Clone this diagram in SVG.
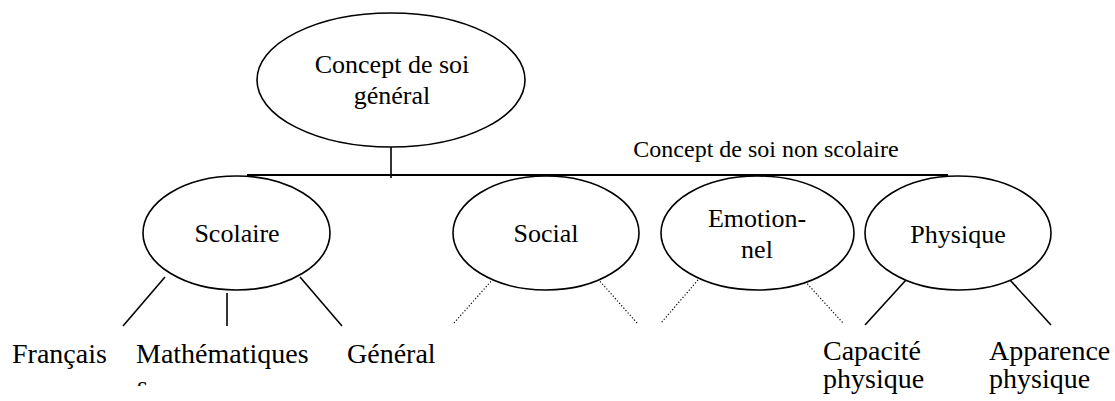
<svg xmlns="http://www.w3.org/2000/svg" width="1115" height="401" viewBox="0 0 1115 401" font-family="'Liberation Serif', 'Times New Roman', 'DejaVu Serif', serif">
<style>
.node{fill:#fff;stroke:#000;stroke-width:1.6}
text{font-family:'Liberation Serif','Times New Roman','DejaVu Serif',serif;fill:#000}
.t{text-anchor:middle;font-size:26px}
.b{font-size:28px}
.solid{stroke:#000;stroke-width:1.6;fill:none}
.dot{stroke:#000;stroke-width:1.2;stroke-dasharray:1.2 2;fill:none}
</style>
<defs>
<clipPath id="cut"><rect x="120" y="370" width="40" height="16"/></clipPath>
</defs>
<rect width="1115" height="401" fill="#fff"/>
<g id="connectors">
<line class="solid" x1="391" y1="147" x2="391" y2="178"/>
<line class="solid" x1="247" y1="175" x2="948" y2="175" style="stroke-width:2"/>
<line class="solid" x1="165" y1="277" x2="123" y2="326"/>
<line class="solid" x1="227" y1="293" x2="227" y2="326"/>
<line class="solid" x1="300" y1="277" x2="342" y2="326"/>
<line class="dot" x1="493" y1="279" x2="454" y2="323"/>
<line class="dot" x1="598" y1="279" x2="637" y2="323"/>
<line class="dot" x1="698" y1="280" x2="661" y2="323"/>
<line class="dot" x1="803" y1="279" x2="843" y2="323"/>
<line class="solid" x1="906" y1="280" x2="865" y2="325"/>
<line class="solid" x1="1010" y1="280" x2="1051" y2="325"/>
</g>
<g id="general">
<ellipse class="node" cx="391" cy="80" rx="134" ry="67"/>
<text class="t" x="392" y="73">Concept de soi</text>
<text class="t" x="392" y="104">général</text>
</g>
<g id="nonscolaire-label">
<text class="t" x="766" y="157" style="font-size:24px">Concept de soi non scolaire</text>
</g>
<g id="scolaire">
<ellipse class="node" cx="236.5" cy="233" rx="93.5" ry="57"/>
<text class="t" x="237" y="242">Scolaire</text>
</g>
<g id="social">
<ellipse class="node" cx="546" cy="233" rx="93" ry="57"/>
<text class="t" x="546" y="242">Social</text>
</g>
<g id="emotionnel">
<ellipse class="node" cx="757.5" cy="233" rx="96.5" ry="57"/>
<text class="t" x="757" y="227">Emotion-</text>
<text class="t" x="757" y="258">nel</text>
</g>
<g id="physique">
<ellipse class="node" cx="958" cy="233" rx="93" ry="57"/>
<text class="t" x="958" y="243">Physique</text>
</g>
<g id="francais"><text class="b" x="12" y="363">Français</text></g>
<g id="maths">
<text class="b" x="136" y="363">Mathématiques</text>
<text class="b" x="137" y="395" clip-path="url(#cut)">s</text>
</g>
<g id="general-scol"><text class="b" x="347" y="363">Général</text></g>
<g id="capacite">
<text class="b" x="823" y="360">Capacité</text>
<text class="b" x="823" y="388">physique</text>
</g>
<g id="apparence">
<text class="b" x="989" y="360">Apparence</text>
<text class="b" x="989" y="388">physique</text>
</g>
</svg>
